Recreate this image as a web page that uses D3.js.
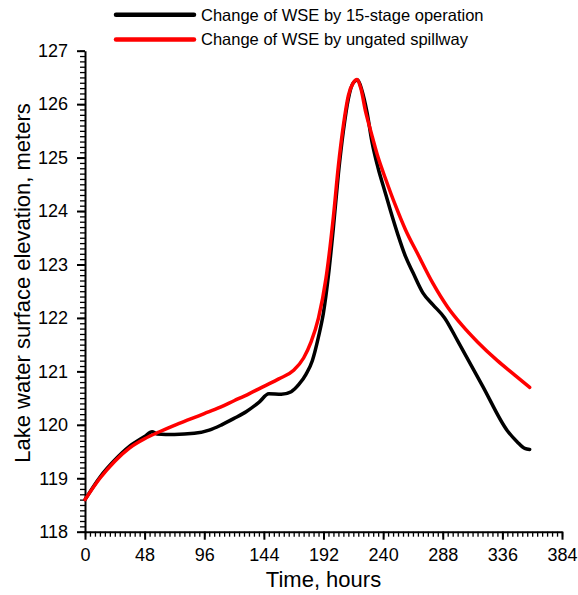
<!DOCTYPE html>
<html><head><meta charset="utf-8">
<script src="https://cdn.jsdelivr.net/npm/d3@7"></script>
<style>body{margin:0;background:#fff}svg{display:block}text{font-family:"Liberation Sans",Arial,sans-serif}</style>
</head><body>
<script>
const xTicks = [0,48,96,144,192,240,288,336,384];
const yTicks = [118,119,120,121,122,123,124,125,126,127];
const seriesNames = ["Change of WSE by 15-stage operation","Change of WSE by ungated spillway"];
const seriesColors = ["#000000","#ff0000"];

const stageT = [0,12,24,36,48,54,58,72,88,100,110,120,130,140,148,158,166,172,178,183,188,192,196,200,204,208,212,216,219.5,223,227,231,236,241,246,252,258,264,272,280,289.5,300,320,340,348,354,358];
const stageV = [118.6,119.02,119.34,119.6,119.78,119.87,119.83,119.82,119.84,119.9,120.0,120.12,120.25,120.42,120.58,120.57,120.62,120.75,120.95,121.2,121.65,122.1,122.8,123.7,124.7,125.5,126.1,126.4,126.45,126.25,125.85,125.3,124.8,124.4,124.0,123.55,123.15,122.85,122.47,122.25,122.0,121.57,120.73,119.89,119.68,119.56,119.54];

const spillT = [0,12,24,36,48,60,72,84,96,108,120,132,144,156,168,176,182,188,194,200,204,208,212,216,219,222,226,230,236,242,250,258,268,280,292,304,316,332,346,358];
const spillV = [118.6,119.0,119.32,119.57,119.74,119.87,119.99,120.1,120.21,120.32,120.45,120.58,120.72,120.86,121.02,121.25,121.55,122.0,122.74,123.9,124.85,125.6,126.16,126.4,126.46,126.3,125.85,125.5,125.0,124.6,124.1,123.65,123.19,122.65,122.2,121.85,121.55,121.2,120.93,120.7];

const W = 578, H = 595;
const svg = d3.select("body").append("svg").attr("width", W).attr("height", H);
const x = d3.scaleLinear().domain([0,384]).range([85,562]);
const y = d3.scaleLinear().domain([118,127]).range([531.7,50.7]);

const xMinor = d3.range(0,385,4);
const yMinor = d3.range(0,91).map(i => 118 + i*0.1);

// x axis: minor
const gxm = svg.append("g").attr("transform", `translate(0,${y(118)})`)
  .call(d3.axisBottom(x).tickValues(xMinor).tickSize(5).tickFormat("").tickSizeOuter(0));
gxm.select(".domain").remove();
gxm.selectAll(".tick line").attr("stroke","#000").attr("stroke-width",1.3);
// x axis: major
const gx = svg.append("g").attr("transform", `translate(0,${y(118)})`)
  .call(d3.axisBottom(x).tickValues(xTicks).tickSize(8).tickSizeOuter(0).tickPadding(9));
gx.select(".domain").attr("stroke","#000").attr("stroke-width",2);
gx.selectAll(".tick line").attr("stroke","#000").attr("stroke-width",2);
gx.selectAll(".tick text").attr("font-size",18).attr("font-family","Liberation Sans, Arial, sans-serif").attr("fill","#000");

// y axis: minor
const gym = svg.append("g").attr("transform", `translate(${x(0)},0)`)
  .call(d3.axisLeft(y).tickValues(yMinor).tickSize(5).tickFormat("").tickSizeOuter(0));
gym.select(".domain").remove();
gym.selectAll(".tick line").attr("stroke","#000").attr("stroke-width",1.3);
// y axis: major
const gy = svg.append("g").attr("transform", `translate(${x(0)},0)`)
  .call(d3.axisLeft(y).tickValues(yTicks).tickSize(8).tickSizeOuter(0).tickPadding(9));
gy.select(".domain").attr("stroke","#000").attr("stroke-width",2);
gy.selectAll(".tick line").attr("stroke","#000").attr("stroke-width",2);
gy.selectAll(".tick text").attr("font-size",18).attr("font-family","Liberation Sans, Arial, sans-serif").attr("fill","#000");

svg.append("text").attr("x", (x(0)+x(384))/2).attr("y", 587).attr("text-anchor","middle").attr("font-size",22).text("Time, hours");
svg.append("text").attr("transform","translate(30,283) rotate(-90)").attr("text-anchor","middle").attr("font-size",22).text("Lake water surface elevation, meters");

const line = d3.line().x(d=>x(d[0])).y(d=>y(d[1])).curve(d3.curveMonotoneX);
const stage = stageT.map((t,i)=>[t,stageV[i]]);
const spill = spillT.map((t,i)=>[t,spillV[i]]);
svg.append("path").datum(stage).attr("d", line).attr("fill","none").attr("stroke",seriesColors[0]).attr("stroke-width",3.5).attr("stroke-linejoin","round").attr("stroke-linecap","round");
svg.append("path").datum(spill).attr("d", line).attr("fill","none").attr("stroke",seriesColors[1]).attr("stroke-width",3.5).attr("stroke-linejoin","round").attr("stroke-linecap","round");

const leg = svg.append("g");
seriesNames.forEach((n,i)=>{
  const yy = 14.8 + i*24.8;
  leg.append("line").attr("x1",116).attr("x2",194).attr("y1",yy).attr("y2",yy).attr("stroke",seriesColors[i]).attr("stroke-width",4.5).attr("stroke-linecap","round");
  leg.append("text").attr("x",201).attr("y",yy+5.8).attr("font-size",16.5).text(n);
});
</script>
</body></html>
